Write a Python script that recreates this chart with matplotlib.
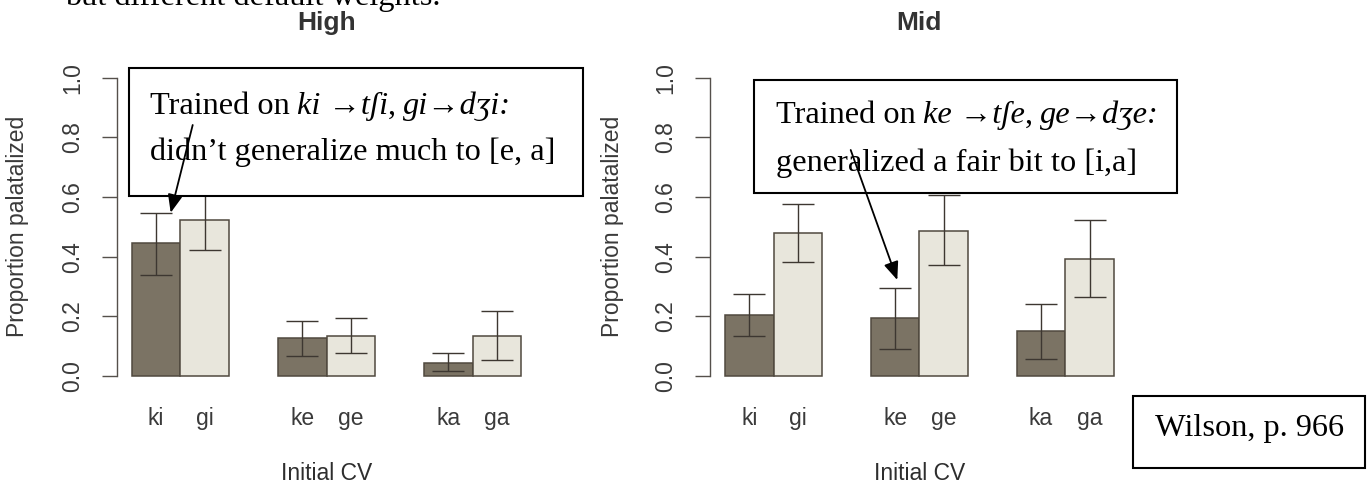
import numpy as np
import matplotlib
matplotlib.use("Agg")
import matplotlib.pyplot as plt
from matplotlib.patches import Rectangle, FancyArrowPatch
from matplotlib.transforms import blended_transform_factory

#Data
categories_k = ["ki", "ke", "ka"]
categories_g = ["gi", "ge", "ga"]

high_k = [0.445, 0.126, 0.044]
high_k_lo = [0.339, 0.067, 0.016]
high_k_hi = [0.545, 0.184, 0.077]
high_g = [0.523, 0.135, 0.135]
high_g_lo = [0.422, 0.077, 0.054]
high_g_hi = [0.625, 0.193, 0.218]

mid_k = [0.204, 0.195, 0.151]
mid_k_lo = [0.134, 0.092, 0.058]
mid_k_hi = [0.276, 0.295, 0.242]
mid_g = [0.480, 0.487, 0.393]
mid_g_lo = [0.383, 0.372, 0.266]
mid_g_hi = [0.577, 0.607, 0.523]

y_ticks = [0.0, 0.2, 0.4, 0.6, 0.8, 1.0]

#Styling
W, H = 1371, 484
SANS = ["Liberation Sans", "DejaVu Sans"]
SERIF = ["Liberation Serif", "DejaVu Serif"]
DARK = "#7b7364"
LIGHT = "#e8e6dc"
EDGE = "#50493f"
AXCOL = "#55504b"
TXTCOL = "#3a3a3a"

fig = plt.figure(figsize=(W / 100, H / 100), dpi=100)


def px(x, y):
    #pixel (from top-left) to figure fraction
    return x / W, 1 - y / H


def add_panel(left_px, x1_px, unit, ylab_x, title, kv, klo, khi, gv, glo, ghi):
    y0, y1 = 376, 77.7
    width_px = 440
    ax = fig.add_axes([left_px / W, (H - y0) / H, width_px / W, (y0 - y1) / H])
    xl = 1 - (x1_px - left_px) / unit
    ax.set_xlim(xl, xl + width_px / unit)
    ax.set_ylim(0, 1)

    k_pos = np.arange(3) * 3 + 1.5
    g_pos = k_pos + 1
    kv, klo, khi = map(np.array, (kv, klo, khi))
    gv, glo, ghi = map(np.array, (gv, glo, ghi))

    ax.bar(k_pos, kv, width=1, color=DARK, edgecolor=EDGE, linewidth=1.1, clip_on=False)
    ax.bar(g_pos, gv, width=1, color=LIGHT, edgecolor=EDGE, linewidth=1.1, clip_on=False)
    ax.errorbar(k_pos, kv, yerr=[kv - klo, khi - kv], fmt="none", ecolor="#3d3731",
                elinewidth=1.0, capsize=11.5, capthick=1.0, clip_on=False)
    ax.errorbar(g_pos, gv, yerr=[gv - glo, ghi - gv], fmt="none", ecolor="#3d3731",
                elinewidth=1.0, capsize=11.5, capthick=1.0, clip_on=False)

    for s in ["top", "right", "bottom"]:
        ax.spines[s].set_visible(False)
    ax.spines["left"].set_bounds(0, 1)
    ax.spines["left"].set_color(AXCOL)
    ax.spines["left"].set_linewidth(1.0)

    ax.set_yticks(y_ticks)
    ax.set_yticklabels([f"{t:.1f}" for t in y_ticks], rotation=90, va="center",
                       family=SANS, fontsize=16.5, color=TXTCOL)
    ax.tick_params(axis="y", length=10.8, width=1.0, color=AXCOL, pad=13)

    pos = np.sort(np.concatenate([k_pos, g_pos]))
    names = [n for pair in zip(categories_k, categories_g) for n in pair]
    ax.set_xticks(pos)
    ax.set_xticklabels(names, family=SANS, fontsize=16.5, color=TXTCOL)
    ax.tick_params(axis="x", length=0, pad=22)

    ax.set_ylabel("Proportion palatalized", family=SANS, fontsize=16.5, color=TXTCOL)
    ax.yaxis.set_label_coords((ylab_x - left_px) / width_px, 0.5)
    ax.yaxis.label.set_verticalalignment("center")

    tr = blended_transform_factory(ax.transData, ax.transAxes)
    ax.set_xlabel("Initial CV", family=SANS, fontsize=16.5, color="#2e2e2e")
    ax.xaxis.set_label_coords(5.0, (y0 - 462) / (y0 - y1), transform=tr)
    ax.text(5.0, (y0 - 30) / (y0 - y1), title, transform=tr, ha="center", va="baseline",
            family=SANS, fontsize=19, fontweight="bold", color="#333333")
    return ax


add_panel(117.3, 131.7, 48.7, 18, "High", high_k, high_k_lo, high_k_hi, high_g, high_g_lo, high_g_hi)
add_panel(710, 725, 48.6, 613, "Mid", mid_k, mid_k_lo, mid_k_hi, mid_g, mid_g_lo, mid_g_hi)

renderer = fig.canvas.get_renderer()
FS = 23.3


def rich_line(x, y, pieces):
    #pieces: (text, style) or a number meaning a gap in pixels
    for p in pieces:
        if not isinstance(p, tuple):
            x += p
            continue
        s, style = p
        t = fig.text(*px(x, y), s, family=SERIF, style=style, fontsize=FS,
                     ha="left", va="baseline", color="black", zorder=3)
        x += t.get_window_extent(renderer=renderer).width


def box(x0, y0, x1, y1):
    r = Rectangle(px(x0, y1), (x1 - x0) / W, (y1 - y0) / H, transform=fig.transFigure,
                  facecolor="white", edgecolor="black", linewidth=1.5, zorder=2)
    fig.add_artist(r)


def arrow(x0, y0, x1, y1):
    a = FancyArrowPatch(px(x0, y0), px(x1, y1), transform=fig.transFigure,
                        arrowstyle="-|>,head_length=1.1,head_width=0.45", mutation_scale=10,
                        linewidth=1.3, color="black", shrinkA=0, shrinkB=0, zorder=4)
    fig.add_artist(a)


SP = 7

#top line of the slide, cut off
fig.text(*px(65, 5), "but different default weights.", family=SERIF, fontsize=FS,
         ha="left", va="baseline", color="black")

#left note
box(129, 68.3, 583.3, 196)
rich_line(150, 114, [("Trained on", "normal"), SP, ("ki \u2192t\u0283i", "italic"),
                     (",", "normal"), SP, ("gi\u2192d\u0292i:", "italic")])
rich_line(150, 160, [("didn\u2019t generalize much to [e, a]", "normal")])
arrow(192.7, 125, 170.7, 212.7)

#right note
box(754.3, 80, 1177.3, 193.3)
rich_line(776, 123, [("Trained on", "normal"), SP, ("ke \u2192t\u0283e", "italic"),
                     (",", "normal"), SP, ("ge\u2192d\u0292e:", "italic")])
rich_line(776, 171, [("generalized a fair bit to [i,a]", "normal")])
arrow(850.7, 150, 897.3, 280)

#source
box(1132.7, 396, 1365, 468.3)
rich_line(1155, 436, [("Wilson, p. 966", "normal")])

fig.savefig("out.png", dpi=100)
